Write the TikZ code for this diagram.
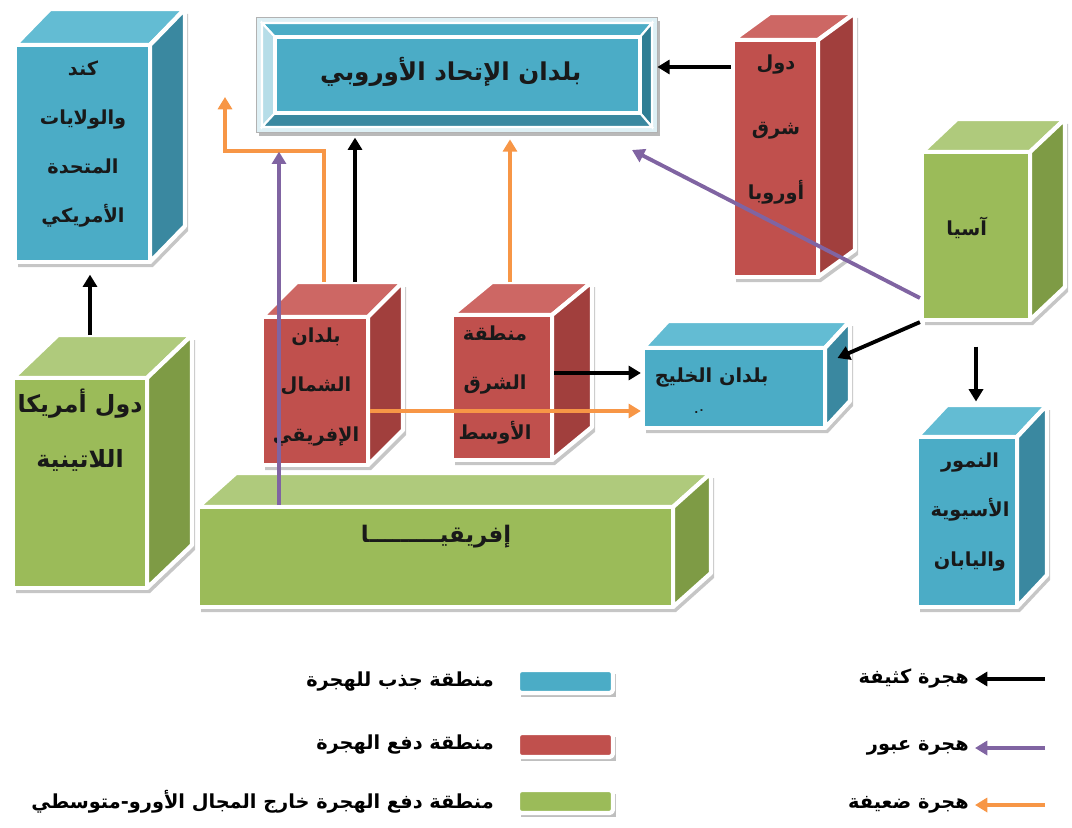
\documentclass[tikz,border=0pt]{standalone}
\usepackage{fontspec}
\usetikzlibrary{arrows.meta,fit}
\newfontfamily\arabicfont[Script=Arabic]{DejaVu Sans}
\TeXXeTstate=1
\newcommand{\ar}[1]{\beginR#1\endR}

\definecolor{pullblue}{HTML}{4BACC6}
\definecolor{pullbluetop}{HTML}{63BCD3}
\definecolor{pullblueside}{HTML}{3A88A0}
\definecolor{pullbluelight}{HTML}{B6DDE8}
\definecolor{pullbluedark}{HTML}{2F7E94}
\definecolor{pushred}{HTML}{C0504D}
\definecolor{pushredtop}{HTML}{CD6764}
\definecolor{pushredside}{HTML}{A13F3D}
\definecolor{outgreen}{HTML}{9BBB59}
\definecolor{outgreentop}{HTML}{AFCA7C}
\definecolor{outgreenside}{HTML}{7E9B45}
\definecolor{transitpurple}{HTML}{8064A2}
\definecolor{weakorange}{HTML}{F79646}

\tikzset{
    face/.style={draw=white, line width=2.4pt, line join=round, inner sep=0pt},
    boxtext/.style={align=center, text=black!90,
        font=\arabicfont\bfseries\fontsize{11}{28}\selectfont},
    legtext/.style={anchor=east, text=black,
        font=\arabicfont\bfseries\fontsize{11}{13}\selectfont},
    flow/.style={line width=2.2pt, -{Triangle[length=7pt,width=8pt]}},
    heavyflow/.style={flow, black},
    transitflow/.style={flow, transitpurple},
    weakflow/.style={flow, weakorange},
}

% name, x1, y1, x2, y2, depth x, depth y, colour
\newcommand{\drawcuboid}[8]{%
    \fill[gray!45] ({#2+3},{#3+5}) -- ({#2+#6+3},{#3+#7+5}) -- ({#4+#6+3},{#3+#7+5})
        -- ({#4+#6+3},{#5+#7+5}) -- ({#4+3},{#5+5}) -- ({#2+3},{#5+5}) -- cycle;
    \filldraw[face, fill=#8top] (#2,#3) -- ({#2+#6},{#3+#7}) -- ({#4+#6},{#3+#7}) -- (#4,#3) -- cycle;
    \filldraw[face, fill=#8side] (#4,#3) -- ({#4+#6},{#3+#7}) -- ({#4+#6},{#5+#7}) -- (#4,#5) -- cycle;
    \node[face, fill=#8, fit={(#2,#3) (#4,#5)}] (#1) {};
    \coordinate (#1-top) at ({(#2+#4)/2+#6},{#3+#7});
    \coordinate (#1-side) at ({#4+#6/2},{(#3+#5)/2+#7/2});
}

\begin{document}
\begin{tikzpicture}[x=0.02cm, y=-0.02cm]
    \useasboundingbox (0,0) rectangle (1072,828);

    % boxes
    \drawcuboid{canada}{15}{45}{150}{262}{35}{-36}{pullblue}
    \drawcuboid{eeur}{733}{40}{818}{277}{37}{-27}{pushred}
    \drawcuboid{asia}{922}{152}{1030}{320}{35}{-33}{outgreen}
    \drawcuboid{latam}{13}{378}{147}{588}{45}{-43}{outgreen}
    \drawcuboid{nafr}{262}{317}{368}{465}{35}{-35}{pushred}
    \drawcuboid{mide}{452}{315}{552}{460}{40}{-33}{pushred}
    \drawcuboid{gulf}{643}{348}{825}{428}{25}{-27}{pullblue}
    \drawcuboid{tigers}{917}{437}{1017}{607}{30}{-32}{pullblue}
    \drawcuboid{afr}{198}{507}{673}{607}{38}{-34}{outgreen}

    \fill[gray!55] (259,21) rectangle (660,136);
    \node[fit={(256,17) (657,132)}, inner sep=0pt, fill=pullbluelight!45, draw=gray!60] (eu-frame) {};
    \filldraw[draw=white, line width=1.2pt, fill=pullblue] (262,23) -- (652,23) -- (640,37) -- (275,37) -- cycle;
    \filldraw[draw=white, line width=1.2pt, fill=pullbluelight] (262,23) -- (275,37) -- (275,113) -- (262,127) -- cycle;
    \filldraw[draw=white, line width=1.2pt, fill=pullbluedark] (652,23) -- (652,127) -- (640,113) -- (640,37) -- cycle;
    \filldraw[draw=white, line width=1.2pt, fill=pullblueside] (262,127) -- (652,127) -- (640,113) -- (275,113) -- cycle;
    \node[face, fill=pullblue, fit={(275,37) (640,113)}] (eu) {};

    % box texts
    \node[boxtext] (canada-txt) at (83, 144) {
        \ar{كند}\\\ar{والولايات}\\\ar{المتحدة}\\\ar{الأمريكي}
    };
    \node[boxtext, font=\arabicfont\bfseries\fontsize{14}{16}\selectfont] (eu-txt) at (455, 72) {
        \ar{بلدان الإتحاد الأوروبي}
    };
    \node[boxtext] (eeur-txt) at (776, 130) {
        \ar{دول}\\[9pt]\ar{شرق}\\[9pt]\ar{أوروبا}
    };
    \node[boxtext] (asia-txt) at (970, 228) {
        \ar{آسيا}
    };
    \node[boxtext, font=\arabicfont\bfseries\fontsize{13.5}{31}\selectfont] (latam-txt) at (80, 430) {
        \ar{دول أمريكا}\\\ar{اللاتينية}
    };
    \node[boxtext] (nafr-txt) at (316, 387) {
        \ar{بلدان}\\\ar{الشمال}\\\ar{الإفريقي}
    };
    \node[boxtext] (mide-txt) at (495, 385) {
        \ar{منطقة}\\\ar{الشرق}\\\ar{الأوسط}
    };
    \node[boxtext] (gulf-txt) at (715, 378) {
        \ar{بلدان الخليج}
    };
    \node[boxtext, font=\arabicfont\bfseries\fontsize{6}{7}\selectfont] (gulf-dot) at (702, 412) {
        \ar{٠.}
    };
    \node[boxtext] (tigers-txt) at (970, 512) {
        \ar{النمور}\\\ar{الأسيوية}\\\ar{واليابان}
    };
    \node[boxtext, font=\arabicfont\bfseries\fontsize{13}{15}\selectfont] (afr-txt) at (440, 537) {
        \ar{إفريقيـــــــــا}
    };

    % flows
    \coordinate (weak-end) at (225, 97);
    \coordinate (transit-end) at (632, 150);
    \draw[heavyflow, shorten >=6pt] (latam-top -| 90,0) -- (canada.south -| 90,0);
    \draw[heavyflow] (eeur.west |- 0,67) -- (eu-frame.east |- 0,67);
    \draw[heavyflow, shorten >=3pt] (nafr-top -| 355,0) -- (eu-frame.south -| 355,0);
    \draw[weakflow] (nafr-top -| 324,0) -- (324,151) -| (weak-end);
    \draw[transitflow, shorten >=11pt] (afr.north -| 279,0) -- (eu-frame.south -| 279,0);
    \draw[weakflow, shorten >=4pt] (mide-top -| 510,0) -- (eu-frame.south -| 510,0);
    \draw[transitflow] (asia.west |- 0,298) -- (transit-end);
    \draw[heavyflow] (asia.south west) -- (gulf-side |- 0,358);
    \draw[heavyflow, shorten <=14pt, shorten >=2pt] (asia.south) -- (asia.south |- tigers-top);
    \draw[heavyflow] (mide.east |- 0,373) -- (gulf.west |- 0,373);
    \draw[weakflow] (nafr.east |- 0,411) -- (gulf.west |- 0,411);

    % legend
    \fill[gray!50] (521,674) rectangle (616,697);
    \node[face, fill=pullblue, rounded corners=2pt, fit={(518,670) (613,693)}] (leg-pull) {};
    \fill[gray!50] (521,737) rectangle (616,761);
    \node[face, fill=pushred, rounded corners=2pt, fit={(518,733) (613,757)}] (leg-push) {};
    \fill[gray!50] (521,794) rectangle (616,817);
    \node[face, fill=outgreen, rounded corners=2pt, fit={(518,790) (613,813)}] (leg-out) {};
    \node[legtext] (leg-pull-txt) at (500, 682) {\ar{منطقة جذب للهجرة}};
    \node[legtext] (leg-push-txt) at (500, 745) {\ar{منطقة دفع الهجرة}};
    \node[legtext] (leg-out-txt) at (500, 802) {\ar{منطقة دفع الهجرة خارج المجال الأورو-متوسطي}};

    \node[legtext] (leg-heavy-txt) at (975, 679) {\ar{هجرة كثيفة}};
    \node[legtext] (leg-transit-txt) at (975, 748) {\ar{هجرة عبور}};
    \node[legtext] (leg-weak-txt) at (975, 805) {\ar{هجرة ضعيفة}};
    \coordinate (leg-heavy) at (1045, 679);
    \coordinate (leg-transit) at (1045, 748);
    \coordinate (leg-weak) at (1045, 805);
    \draw[heavyflow] (leg-heavy) -- (leg-heavy-txt);
    \draw[transitflow] (leg-transit) -- (leg-transit-txt);
    \draw[weakflow] (leg-weak) -- (leg-weak-txt);
\end{tikzpicture}
\end{document}
